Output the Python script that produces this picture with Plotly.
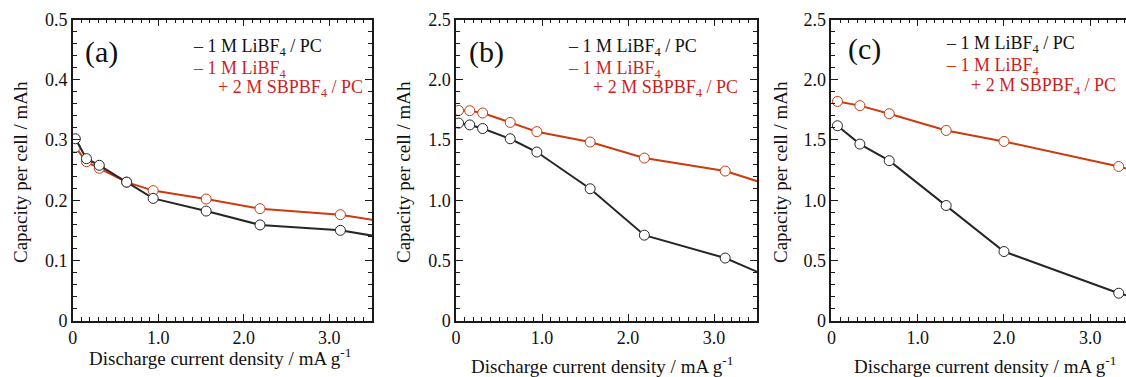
import plotly.graph_objects as go

W, H = 1126, 377

# ---------------- data ----------------
a_x = [0.03, 0.16, 0.31, 0.63, 0.94, 1.56, 2.19, 3.13, 4.69]
a_black = [0.302, 0.269, 0.258, 0.230, 0.203, 0.182, 0.159, 0.150, 0.113]
a_red = [0.288, 0.264, 0.253, 0.230, 0.216, 0.202, 0.186, 0.176, 0.140]

b_x = [0.03, 0.16, 0.31, 0.63, 0.94, 1.56, 2.19, 3.13, 4.69]
b_black = [1.64, 1.625, 1.595, 1.51, 1.40, 1.095, 0.71, 0.52, 0.04]
b_red = [1.745, 1.743, 1.724, 1.646, 1.569, 1.483, 1.35, 1.242, 0.89]

c_x = [0.07, 0.33, 0.67, 1.33, 2.0, 3.33, 4.0]
c_black = [1.618, 1.466, 1.328, 0.956, 0.574, 0.228, 0.10]
c_red = [1.82, 1.785, 1.718, 1.579, 1.488, 1.28, 1.15]

x_tickvals = [0, 1, 2, 3]
x_ticktext = ["0", "1.0", "2.0", "3.0"]
ya_tickvals = [0, 0.1, 0.2, 0.3, 0.4, 0.5]
ya_ticktext = ["0", "0.1", "0.2", "0.3", "0.4", "0.5"]
yb_tickvals = [0, 0.5, 1.0, 1.5, 2.0, 2.5]
yb_ticktext = ["0", "0.5", "1.0", "1.5", "2.0", "2.5"]

panel_labels = ["(a)", "(b)", "(c)"]
legend_black = "1 M LiBF<sub>4</sub> / PC"
legend_red1 = "1 M LiBF<sub>4</sub>"
legend_red2 = "+ 2 M SBPBF<sub>4</sub> / PC"
x_title = "Discharge current density / mA g<sup>-1</sup>"
y_title = "Capacity per cell / mAh"

# ---------------- styles ----------------
FONT = "Times New Roman, Liberation Serif, serif"
BLACK = "#262626"
RED_LINE = "#cc3a0e"
RED_TEXT = "#cc1f1f"
AX = "#1a1a1a"

def px(x):
    return x / W

def py(y):
    return 1 - y / H

fig = go.Figure()

panels = [
    ("x", "y", a_x, a_black, a_red),
    ("x2", "y2", b_x, b_black, b_red),
    ("x3", "y3", c_x, c_black, c_red),
]
for xa, ya, xs, yk, yr in panels:
    fig.add_trace(go.Scatter(
        x=xs, y=yr, xaxis=xa, yaxis=ya, mode="lines+markers",
        line=dict(color=RED_LINE, width=2),
        marker=dict(symbol="circle", size=10, color="white",
                    line=dict(color=RED_LINE, width=1)),
        showlegend=False))
    fig.add_trace(go.Scatter(
        x=xs, y=yk, xaxis=xa, yaxis=ya, mode="lines+markers",
        line=dict(color=BLACK, width=2),
        marker=dict(symbol="circle", size=10, color="white",
                    line=dict(color=BLACK, width=1)),
        showlegend=False))

top, bottom = 19.5, 320.7
ydom = [py(bottom), py(top)]
xdoms = [[px(72.8), px(372)], [px(456), px(757)], [px(831.4), 1.0]]
xranges = [[0, 3.5], [0, 3.5], [0, 3.414]]

tickfont = dict(family=FONT, size=18, color="#111")

def xaxis(i, mirror):
    return dict(domain=xdoms[i], range=xranges[i], anchor=["y", "y2", "y3"][i],
                showline=True, linecolor=AX, linewidth=1.5, mirror=mirror,
                ticks="inside", ticklen=7, tickwidth=1.2, tickcolor=AX,
                tickvals=x_tickvals, ticktext=x_ticktext, tickfont=tickfont,
                minor=dict(dtick=0.1, tick0=0, ticks="inside", ticklen=4,
                           tickwidth=1, tickcolor=AX),
                showgrid=False, zeroline=False, automargin=False)

def yaxis(i, rng, tv, tt, mdt, mirror):
    return dict(domain=ydom, range=rng, anchor=["x", "x2", "x3"][i],
                showline=True, linecolor=AX, linewidth=1.5, mirror=mirror,
                ticks="inside", ticklen=7, tickwidth=1.2, tickcolor=AX,
                tickvals=tv, ticktext=tt, tickfont=tickfont,
                minor=dict(dtick=mdt, tick0=0, ticks="inside", ticklen=4,
                           tickwidth=1, tickcolor=AX),
                showgrid=False, zeroline=False, automargin=False)

fig.update_layout(
    width=W, height=H,
    margin=dict(l=0, r=0, t=0, b=0),
    paper_bgcolor="white", plot_bgcolor="white",
    font=dict(family=FONT, size=17, color="#111"),
    xaxis=xaxis(0, "ticks"),
    xaxis2=xaxis(1, "ticks"),
    xaxis3=xaxis(2, "ticks"),
    yaxis=yaxis(0, [0, 0.5], ya_tickvals, ya_ticktext, 0.02, "ticks"),
    yaxis2=yaxis(1, [0, 2.5], yb_tickvals, yb_ticktext, 0.1, "ticks"),
    yaxis3=yaxis(2, [0, 2.5], yb_tickvals, yb_ticktext, 0.1, False),
)

annots = []
def txt(x, y, s, size=17, color="#111", xanchor="left", angle=0):
    annots.append(dict(x=px(x), y=py(y), xref="paper", yref="paper", text=s,
                       showarrow=False, xanchor=xanchor, yanchor="middle",
                       textangle=angle,
                       font=dict(family=FONT, size=size, color=color)))

# panel labels
label_pos = [(83, 52), (467, 52), (846, 49)]
for (lx, ly), lab in zip(label_pos, panel_labels):
    txt(lx, ly, lab, size=30)

# legends
leg_pos = [(191, 47, 216), (566, 47, 591), (944, 44, 969)]
for lx, ly, lx2 in leg_pos:
    txt(lx, ly, "<span style='color:%s'>–</span> %s" % (BLACK, legend_black), size=18, color="#111")
    txt(lx, ly + 22, "<span style='color:%s'>–</span> %s" % (RED_LINE, legend_red1), size=18, color=RED_TEXT)
    txt(lx2, ly + 42, legend_red2, size=18, color=RED_TEXT)

# axis titles
xt_pos = [(220, 357), (602, 365), (985, 365)]
for tx, ty in xt_pos:
    txt(tx, ty, x_title, size=19, xanchor="center")
yt_pos = [(20, 172), (403, 172), (780, 172)]
for tx, ty in yt_pos:
    txt(tx, ty, y_title, size=19, xanchor="center", angle=-90)

fig.update_layout(annotations=annots)
fig.write_html("out.html")
